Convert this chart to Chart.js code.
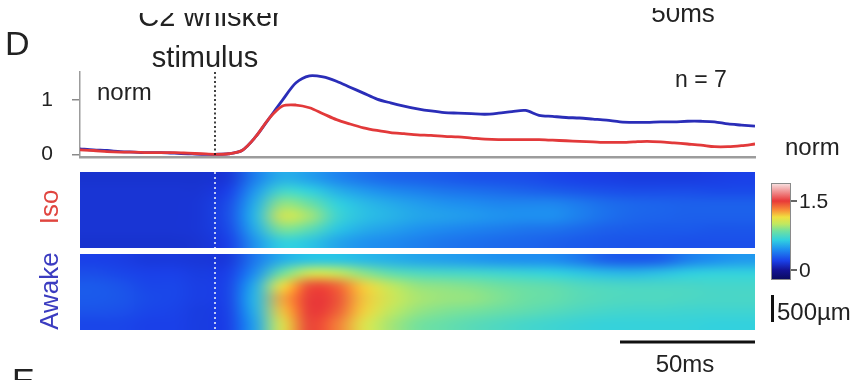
<!DOCTYPE html>
<html>
<head>
<meta charset="utf-8">
<script src="https://cdn.jsdelivr.net/npm/chart.js@4.4.1/dist/chart.umd.min.js"></script>
<style>
  html, body { margin: 0; padding: 0; background: #fff; }
  #wrap { position: relative; width: 859px; height: 380px; overflow: hidden; }
  #wrap canvas { position: absolute; left: 0; top: 0; }
</style>
</head>
<body>
<div id="wrap">
  <canvas id="traceChart" width="859" height="380"></canvas>
  <canvas id="mapChart" width="859" height="380"></canvas>
</div>
<script>
// time axis of the traces (ms, stimulus at 0)
const times = [-50, -45, -40, -35, -30, -25, -20, -15, -10, -5, 0, 5, 10, 15, 20, 25, 30, 35, 40, 45,
  50, 55, 60, 65, 70, 75, 80, 85, 90, 95, 100, 105, 110, 115, 120, 125, 130, 135, 140, 145,
  150, 155, 160, 165, 170, 175, 180, 185, 190, 195, 200];

// normalised response traces
const isoTrace = [0.08, 0.07, 0.05, 0.04, 0.04, 0.03, 0.03, 0.03, 0.02, 0.01, 0.00, 0.01, 0.07, 0.32, 0.66, 0.89, 0.91, 0.86, 0.75, 0.64,
  0.56, 0.49, 0.44, 0.40, 0.38, 0.36, 0.35, 0.33, 0.32, 0.30, 0.28, 0.27, 0.27, 0.27, 0.27, 0.26, 0.25, 0.24, 0.23, 0.22,
  0.22, 0.23, 0.24, 0.23, 0.21, 0.19, 0.17, 0.14, 0.14, 0.16, 0.19];
const awakeTrace = [0.10, 0.08, 0.07, 0.05, 0.04, 0.03, 0.03, 0.02, 0.01, 0.00, 0.00, 0.01, 0.07, 0.32, 0.66, 1.00, 1.32, 1.45, 1.43, 1.35,
  1.24, 1.13, 1.02, 0.95, 0.89, 0.84, 0.80, 0.77, 0.76, 0.75, 0.74, 0.76, 0.79, 0.81, 0.72, 0.70, 0.68, 0.67, 0.65, 0.63,
  0.60, 0.59, 0.59, 0.60, 0.60, 0.61, 0.61, 0.60, 0.56, 0.54, 0.52];

const yTicks = [0, 1];
const stimTime = 0;

// heat map columns (centre time of each 10 ms bin)
const heatTimes = [-45, -35, -25, -15, -5, 5, 15, 25, 35, 45, 55, 65, 75, 85, 95, 105, 115, 125, 135, 145, 155, 165, 175, 185, 195];

// Iso heat map, rows top to bottom
const isoRows = [
  [0.14, 0.14, 0.14, 0.14, 0.14, 0.16, 0.40, 0.55, 0.50, 0.42, 0.36, 0.32, 0.30, 0.28, 0.26, 0.25, 0.24, 0.22, 0.20, 0.19, 0.18, 0.18, 0.18, 0.19, 0.20],
  [0.15, 0.15, 0.15, 0.15, 0.15, 0.20, 0.48, 0.72, 0.66, 0.55, 0.48, 0.43, 0.40, 0.37, 0.35, 0.33, 0.31, 0.29, 0.27, 0.25, 0.24, 0.24, 0.24, 0.23, 0.23],
  [0.15, 0.15, 0.15, 0.15, 0.16, 0.24, 0.55, 0.92, 0.84, 0.66, 0.58, 0.53, 0.49, 0.46, 0.44, 0.42, 0.42, 0.42, 0.38, 0.34, 0.32, 0.31, 0.30, 0.30, 0.30],
  [0.15, 0.15, 0.15, 0.15, 0.16, 0.25, 0.58, 1.05, 0.95, 0.70, 0.60, 0.56, 0.52, 0.50, 0.48, 0.46, 0.45, 0.45, 0.40, 0.35, 0.32, 0.31, 0.30, 0.30, 0.30],
  [0.15, 0.15, 0.15, 0.15, 0.16, 0.23, 0.54, 0.88, 0.80, 0.62, 0.54, 0.50, 0.46, 0.43, 0.41, 0.39, 0.37, 0.36, 0.33, 0.30, 0.29, 0.28, 0.28, 0.27, 0.27],
  [0.14, 0.14, 0.14, 0.14, 0.15, 0.20, 0.47, 0.66, 0.62, 0.52, 0.46, 0.43, 0.40, 0.37, 0.35, 0.33, 0.32, 0.30, 0.28, 0.27, 0.26, 0.26, 0.25, 0.25, 0.25]
];

// Awake heat map, rows top to bottom
const awakeRows = [
  [0.20, 0.19, 0.17, 0.17, 0.16, 0.17, 0.38, 0.55, 0.62, 0.62, 0.58, 0.55, 0.52, 0.50, 0.48, 0.46, 0.45, 0.44, 0.38, 0.30, 0.28, 0.30, 0.40, 0.45, 0.48],
  [0.24, 0.22, 0.20, 0.20, 0.18, 0.20, 0.45, 0.85, 1.05, 1.02, 0.90, 0.80, 0.75, 0.73, 0.72, 0.70, 0.68, 0.66, 0.62, 0.58, 0.57, 0.60, 0.64, 0.66, 0.66],
  [0.28, 0.26, 0.22, 0.22, 0.19, 0.22, 0.55, 1.15, 1.45, 1.40, 1.18, 1.00, 0.92, 0.90, 0.88, 0.85, 0.82, 0.80, 0.76, 0.74, 0.73, 0.73, 0.73, 0.72, 0.72],
  [0.28, 0.27, 0.23, 0.22, 0.19, 0.22, 0.58, 1.25, 1.50, 1.45, 1.20, 1.05, 0.96, 0.93, 0.92, 0.88, 0.84, 0.82, 0.78, 0.76, 0.75, 0.75, 0.74, 0.73, 0.73],
  [0.26, 0.25, 0.22, 0.21, 0.18, 0.21, 0.56, 1.20, 1.50, 1.42, 1.18, 1.00, 0.92, 0.88, 0.86, 0.83, 0.80, 0.77, 0.74, 0.72, 0.71, 0.71, 0.70, 0.70, 0.70],
  [0.22, 0.22, 0.20, 0.20, 0.18, 0.20, 0.52, 1.10, 1.48, 1.35, 1.10, 0.95, 0.86, 0.82, 0.78, 0.75, 0.72, 0.70, 0.68, 0.67, 0.67, 0.67, 0.67, 0.66, 0.66]
];

const colorbarTicks = [0, 1.5];

const FONT = "'Liberation Sans', Arial, sans-serif";
const TEXT = '#222';

// jet-like map that runs to white at the top
const cmapStops = [
  [-0.22, [10, 10, 90]],
  [0.0, [20, 20, 150]],
  [0.2, [26, 64, 232]],
  [0.45, [30, 144, 240]],
  [0.65, [48, 208, 224]],
  [0.85, [112, 224, 160]],
  [1.0, [192, 232, 96]],
  [1.15, [240, 224, 64]],
  [1.3, [248, 144, 56]],
  [1.5, [232, 56, 56]],
  [1.7, [240, 144, 144]],
  [1.9, [248, 234, 234]]
];

function cmap(v) {
  if (v <= cmapStops[0][0]) return cmapStops[0][1];
  for (let i = 1; i < cmapStops.length; i++) {
    const [v1, c1] = cmapStops[i];
    const [v0, c0] = cmapStops[i - 1];
    if (v <= v1) {
      const f = (v - v0) / (v1 - v0);
      return c0.map((c, k) => Math.round(c + (c1[k] - c) * f));
    }
  }
  return cmapStops[cmapStops.length - 1][1];
}

// Chart: response traces
const stimLine = {
  id: 'stimLine',
  afterDatasetsDraw(chart) {
    const {ctx, chartArea, scales} = chart;
    const x = scales.x.getPixelForValue(stimTime);
    ctx.save();
    ctx.strokeStyle = '#111';
    ctx.lineWidth = 1.6;
    ctx.setLineDash([2, 2.5]);
    ctx.beginPath();
    ctx.moveTo(x, chartArea.top);
    ctx.lineTo(x, chartArea.bottom);
    ctx.stroke();
    ctx.restore();
  }
};

new Chart(document.getElementById('traceChart'), {
  type: 'line',
  data: {
    datasets: [
      {
        label: 'Iso',
        data: times.map((t, i) => ({x: t, y: isoTrace[i]})),
        borderColor: '#e2393a',
        borderWidth: 2.8,
        pointRadius: 0,
        tension: 0.3,
        fill: false
      },
      {
        label: 'Awake',
        data: times.map((t, i) => ({x: t, y: awakeTrace[i]})),
        borderColor: '#2a2db8',
        borderWidth: 2.8,
        pointRadius: 0,
        tension: 0.3,
        fill: false
      }
    ]
  },
  options: {
    responsive: false,
    animation: false,
    layout: { padding: { left: 35, right: 104, top: 72, bottom: 223 } },
    plugins: { legend: { display: false }, tooltip: { enabled: false } },
    scales: {
      x: {
        type: 'linear',
        min: -50,
        max: 200,
        ticks: { display: false },
        grid: { display: false },
        border: { display: true, color: '#9c9c9c', width: 2.5 },
        afterFit(scale) { scale.height = 0; }
      },
      y: {
        min: -0.05,
        max: 1.52,
        afterBuildTicks(scale) { scale.ticks = yTicks.map(v => ({value: v})); },
        ticks: { color: TEXT, font: { family: FONT, size: 21 }, padding: 19 },
        grid: { drawOnChartArea: false, color: '#8a8a8a', tickLength: 8, lineWidth: 1.5 },
        border: { color: '#9c9c9c', width: 1.5 },
        afterFit(scale) { scale.width = 45; }
      }
    }
  },
  plugins: [stimLine]
});

// Chart: heat maps + annotations
const AWAKE_BAND = [0, 6];
const ISO_BAND = [6.47, 12.47];

function drawHeat(ctx, xs, ys, rows, band) {
  const nc = rows[0].length, nr = rows.length;
  const off = document.createElement('canvas');
  off.width = nc;
  off.height = nr;
  const octx = off.getContext('2d');
  const img = octx.createImageData(nc, nr);
  rows.forEach((row, r) => row.forEach((v, c) => {
    const col = cmap(v);
    const k = (r * nc + c) * 4;
    img.data[k] = col[0];
    img.data[k + 1] = col[1];
    img.data[k + 2] = col[2];
    img.data[k + 3] = 255;
  }));
  octx.putImageData(img, 0, 0);
  const step = heatTimes[1] - heatTimes[0];
  const left = xs.getPixelForValue(heatTimes[0] - step / 2);
  const right = xs.getPixelForValue(heatTimes[nc - 1] + step / 2);
  const top = ys.getPixelForValue(band[1]);
  const bottom = ys.getPixelForValue(band[0]);
  ctx.save();
  ctx.beginPath();
  ctx.rect(left, top, right - left, bottom - top);
  ctx.clip();
  ctx.imageSmoothingEnabled = true;
  ctx.imageSmoothingQuality = 'high';
  ctx.drawImage(off, left, top, right - left, bottom - top);
  ctx.restore();
}

function txt(ctx, s, x, y, size, opts = {}) {
  ctx.save();
  ctx.font = size + 'px ' + FONT;
  ctx.fillStyle = opts.color || TEXT;
  ctx.textAlign = opts.align || 'left';
  ctx.textBaseline = opts.baseline || 'alphabetic';
  if (opts.clipTop != null) {
    ctx.beginPath();
    ctx.rect(0, opts.clipTop, 859, 380);
    ctx.clip();
  }
  if (opts.rotate) {
    ctx.translate(x, y);
    ctx.rotate(opts.rotate);
    ctx.fillText(s, 0, 0);
  } else {
    ctx.fillText(s, x, y);
  }
  ctx.restore();
}

const heatPlugin = {
  id: 'heatPlugin',
  afterDraw(chart) {
    const {ctx, scales} = chart;
    const xs = scales.x, ys = scales.y;
    drawHeat(ctx, xs, ys, isoRows, ISO_BAND);
    drawHeat(ctx, xs, ys, awakeRows, AWAKE_BAND);

    // stimulus marker through the maps
    const sx = xs.getPixelForValue(stimTime);
    ctx.save();
    ctx.strokeStyle = 'rgba(255,255,255,0.9)';
    ctx.lineWidth = 1.6;
    ctx.setLineDash([2, 3]);
    ctx.beginPath();
    ctx.moveTo(sx, ys.getPixelForValue(ISO_BAND[1]));
    ctx.lineTo(sx, ys.getPixelForValue(AWAKE_BAND[0]));
    ctx.stroke();
    ctx.restore();

    // 50 ms scale bar
    ctx.save();
    ctx.strokeStyle = '#111';
    ctx.lineWidth = 3;
    ctx.beginPath();
    ctx.moveTo(xs.getPixelForValue(150), 342);
    ctx.lineTo(xs.getPixelForValue(200), 342);
    ctx.stroke();
    ctx.restore();
    txt(ctx, '50ms', 685, 372, 24, {align: 'center'});

    // colour bar
    const cbTop = 183, cbBot = 280, cbX = 771, cbW = 20;
    const v0y = 270, v15y = 201;
    const pxPer = (v0y - v15y) / 1.5;
    const grad = ctx.createLinearGradient(0, cbBot, 0, cbTop);
    const vBot = (v0y - cbBot) / pxPer, vTop = (v0y - cbTop) / pxPer;
    cmapStops.forEach(([v, c]) => {
      const f = (v - vBot) / (vTop - vBot);
      if (f >= 0 && f <= 1) grad.addColorStop(f, 'rgb(' + c.join(',') + ')');
    });
    grad.addColorStop(0, 'rgb(' + cmap(vBot).join(',') + ')');
    grad.addColorStop(1, 'rgb(' + cmap(vTop).join(',') + ')');
    ctx.save();
    ctx.fillStyle = grad;
    ctx.fillRect(cbX, cbTop, cbW, cbBot - cbTop);
    ctx.strokeStyle = '#8a8a8a';
    ctx.lineWidth = 1;
    ctx.strokeRect(cbX + 0.5, cbTop + 0.5, cbW - 1, cbBot - cbTop - 1);
    ctx.strokeStyle = '#333';
    ctx.lineWidth = 1.5;
    colorbarTicks.forEach(v => {
      const y = v0y - v * pxPer;
      ctx.beginPath();
      ctx.moveTo(cbX + cbW, y);
      ctx.lineTo(cbX + cbW + 6, y);
      ctx.stroke();
      txt(ctx, String(v), cbX + cbW + 8, y + 1, 21, {baseline: 'middle'});
    });
    // 500 µm bar
    ctx.fillStyle = '#111';
    ctx.fillRect(771, 295, 3, 27);
    ctx.restore();
    txt(ctx, '500µm', 777, 320, 24);

    // panel text
    txt(ctx, 'D', 5, 55, 34);
    txt(ctx, 'E', 12, 392, 34);
    txt(ctx, 'C2 whisker', 210, 26, 29, {align: 'center', clipTop: 13});
    txt(ctx, 'stimulus', 205, 67, 29, {align: 'center'});
    txt(ctx, '50ms', 683, 22, 26, {align: 'center', clipTop: 8});
    txt(ctx, 'norm', 97, 100, 24);
    txt(ctx, 'n = 7', 675, 87, 23);
    txt(ctx, 'norm', 785, 155, 24);
    txt(ctx, 'Iso', 58, 207, 26, {align: 'center', color: '#e0453f', rotate: -Math.PI / 2});
    txt(ctx, 'Awake', 58, 291, 26, {align: 'center', color: '#3b3cc0', rotate: -Math.PI / 2});
  }
};

new Chart(document.getElementById('mapChart'), {
  type: 'scatter',
  data: { datasets: [] },
  options: {
    responsive: false,
    animation: false,
    layout: { padding: { left: 80, right: 104, top: 172, bottom: 50 } },
    plugins: { legend: { display: false }, tooltip: { enabled: false } },
    scales: {
      x: { type: 'linear', min: -50, max: 200, display: false },
      y: { type: 'linear', min: 0, max: 12.47, display: false }
    }
  },
  plugins: [heatPlugin]
});
</script>
</body>
</html>
